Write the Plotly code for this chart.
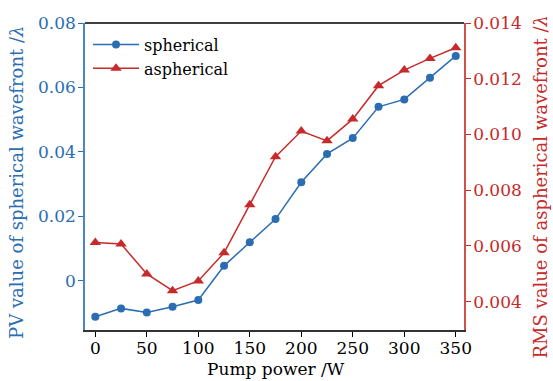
import plotly.graph_objects as go

pump_power = [0, 25, 50, 75, 100, 125, 150, 175, 200, 225, 250, 275, 300, 325, 350]
pv_spherical = [-0.0111, -0.0085, -0.0098, -0.0080, -0.0059, 0.0047, 0.0120, 0.0192,
                0.0306, 0.0394, 0.0443, 0.0540, 0.0563, 0.0630, 0.0698]
rms_aspherical = [0.00612, 0.00607, 0.00499, 0.00439, 0.00474, 0.00575, 0.00748, 0.00920,
                  0.01012, 0.00977, 0.01055, 0.01175, 0.01231, 0.01273, 0.01311]

left_ticks = [0, 0.02, 0.04, 0.06, 0.08]
left_labels = ["0", "0.02", "0.04", "0.06", "0.08"]
right_ticks = [0.004, 0.006, 0.008, 0.010, 0.012, 0.014]
right_labels = ["0.004", "0.006", "0.008", "0.010", "0.012", "0.014"]
x_ticks = [0, 50, 100, 150, 200, 250, 300, 350]

x_title = "Pump power /W"
left_title = "PV value of spherical wavefront /<i>λ</i>"
right_title = "RMS value of aspherical wavefront /<i>λ</i>"

BLUE = "#2a6db3"
RED = "#c62a2a"
FONT = "DejaVu Serif"
FS = 17

def f(color="black", size=FS):
    return dict(family=FONT, size=size, color=color)

fig = go.Figure()
fig.add_trace(go.Scatter(
    x=pump_power, y=pv_spherical, name="spherical", mode="lines+markers",
    line=dict(color=BLUE, width=1.5),
    marker=dict(symbol="circle", size=8, color=BLUE),
    yaxis="y"))
fig.add_trace(go.Scatter(
    x=pump_power, y=rms_aspherical, name="aspherical", mode="lines+markers",
    line=dict(color=RED, width=1.5),
    marker=dict(symbol="triangle-up", size=10, color=RED),
    yaxis="y2"))

fig.update_layout(
    width=553, height=381,
    margin=dict(l=85, r=89, t=23, b=51),
    paper_bgcolor="white", plot_bgcolor="white",
    font=f(),
    showlegend=True,
    legend=dict(x=0.008, y=0.985, xanchor="left", yanchor="top",
                bgcolor="rgba(0,0,0,0)", font=f(size=16),
                tracegroupgap=0, itemwidth=46),
    xaxis=dict(range=[-10, 358], tickvals=x_ticks, ticks="outside", ticklen=5,
               tickcolor="black", showline=True, linecolor="#333333", linewidth=1.5,
               showgrid=False, zeroline=False, mirror=False, automargin=False,
               ticklabelstandoff=-3, tickfont=f()),
    yaxis=dict(range=[-0.0152, 0.08], tickvals=left_ticks, ticktext=left_labels,
               ticks="outside", ticklen=5, tickcolor=BLUE,
               showline=True, linecolor="#4a86c5", linewidth=1.5,
               showgrid=False, zeroline=False, automargin=False,
               ticklabelstandoff=-1, tickfont=f(BLUE)),
    yaxis2=dict(range=[0.00298, 0.014], tickvals=right_ticks, ticktext=right_labels,
                overlaying="y", side="right", anchor="x",
                ticks="outside", ticklen=5, tickcolor=RED,
                showline=True, linecolor="#d0504a", linewidth=1.5,
                showgrid=False, zeroline=False, automargin=False,
                ticklabelstandoff=-1, tickfont=f(RED)),
)

fig.add_shape(type="line", xref="paper", yref="paper", x0=0, x1=1, y0=1, y1=1,
              line=dict(color="black", width=1.5))

fig.add_annotation(text=x_title, xref="paper", yref="paper", x=0.505, y=0,
                   yshift=-51, xanchor="center", yanchor="bottom",
                   showarrow=False, font=f())
fig.add_annotation(text=left_title, xref="paper", yref="paper", x=0, y=0.479,
                   xshift=-68, xanchor="center", yanchor="middle", textangle=-90,
                   showarrow=False, font=f(BLUE, 18))
fig.add_annotation(text=right_title, xref="paper", yref="paper", x=1, y=0.466,
                   xshift=89, xanchor="right", yanchor="middle", textangle=-90,
                   showarrow=False, font=f(RED, 18))

fig.write_html("out.html")
